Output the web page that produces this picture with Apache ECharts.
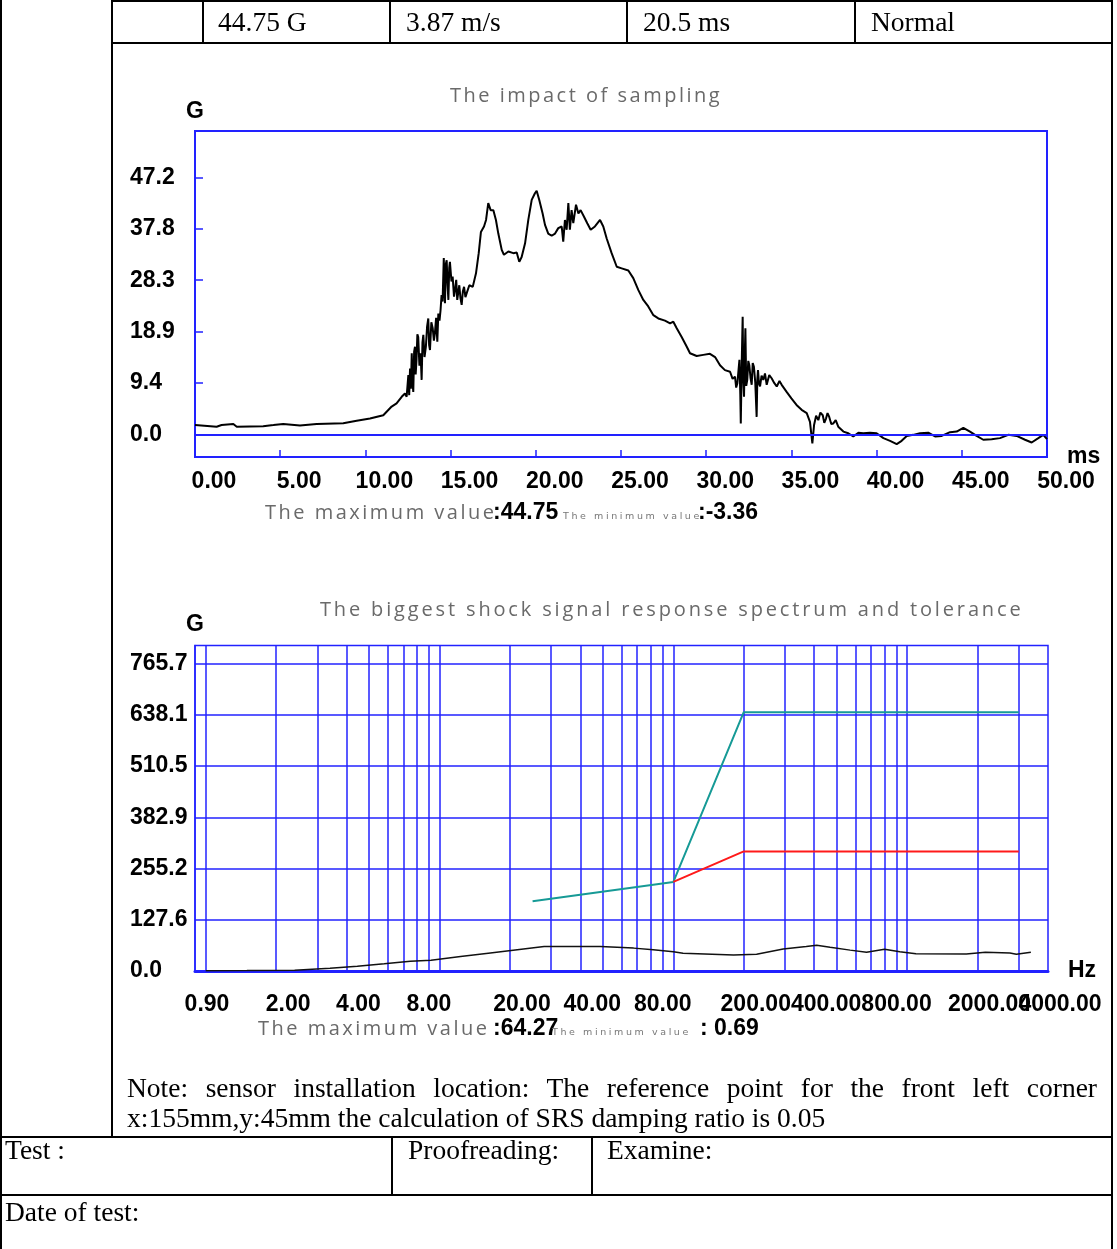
<!DOCTYPE html>
<html>
<head>
<meta charset="utf-8">
<title>Shock test report</title>
<script src="https://cdn.jsdelivr.net/npm/echarts@6/dist/echarts.min.js"></script>
<style>
  html, body { margin: 0; padding: 0; background: #fff; }
  #page { position: relative; width: 1117px; height: 1249px; overflow: hidden; }
  #chart { position: absolute; left: 0; top: 0; width: 1117px; height: 1249px; }
  .ln { position: absolute; background: #000; z-index: 2; }
  .tx { position: absolute; z-index: 2; font-family: 'Liberation Serif', 'Times New Roman', serif;
        font-size: 27.5px; line-height: 30px; white-space: nowrap; color: #000; }
  .cap { position: absolute; z-index: 2; font-family: 'Open Sans', sans-serif; color: #6a6a6a;
         white-space: nowrap; font-size: 20px; line-height: 20px; letter-spacing: 2.5px; }
  .num { position: absolute; z-index: 2; font-family: 'Liberation Sans', Arial, sans-serif; font-weight: bold;
         color: #000; white-space: nowrap; font-size: 23px; line-height: 23px; }
  .tiny { position: absolute; z-index: 2; font-family: 'DejaVu Sans', sans-serif; color: #777;
          white-space: nowrap; font-size: 9.5px; line-height: 10px; letter-spacing: 2.6px; }
</style>
</head>
<body>
<div id="page">
  <div id="chart"></div>

  <!-- table rules -->
  <div class="ln" style="left:0;top:0;width:2px;height:1249px"></div>
  <div class="ln" style="left:111px;top:0;width:2px;height:1137px"></div>
  <div class="ln" style="left:1111px;top:0;width:2px;height:1249px"></div>
  <div class="ln" style="left:111px;top:0;width:1002px;height:2px"></div>
  <div class="ln" style="left:111px;top:42px;width:1002px;height:2px"></div>
  <div class="ln" style="left:202px;top:0;width:2px;height:43px"></div>
  <div class="ln" style="left:389px;top:0;width:2px;height:43px"></div>
  <div class="ln" style="left:626px;top:0;width:2px;height:43px"></div>
  <div class="ln" style="left:854px;top:0;width:2px;height:43px"></div>
  <div class="ln" style="left:0;top:1136px;width:1113px;height:2px"></div>
  <div class="ln" style="left:391px;top:1136px;width:2px;height:59px"></div>
  <div class="ln" style="left:591px;top:1136px;width:2px;height:59px"></div>
  <div class="ln" style="left:0;top:1194px;width:1113px;height:2px"></div>

  <!-- table text -->
  <div class="tx" style="left:218px;top:7px">44.75 G</div>
  <div class="tx" style="left:406px;top:7px">3.87 m/s</div>
  <div class="tx" style="left:643px;top:7px">20.5 ms</div>
  <div class="tx" style="left:871px;top:7px">Normal</div>
  <div class="tx" style="left:127px;top:1073px;width:970px;white-space:normal;text-align:justify;text-align-last:justify">Note: sensor installation location: The reference point for the front left corner</div>
  <div class="tx" style="left:127px;top:1103px">x:155mm,y:45mm the calculation of SRS damping ratio is 0.05</div>
  <div class="tx" style="left:5px;top:1135px">Test :</div>
  <div class="tx" style="left:408px;top:1135px">Proofreading:</div>
  <div class="tx" style="left:607px;top:1135px">Examine:</div>
  <div class="tx" style="left:5px;top:1197px">Date of test:</div>

  <!-- chart captions -->
  <div class="cap" style="left:450px;top:85px">The impact of sampling</div>
  <div class="cap" style="left:320px;top:599px;letter-spacing:2.85px">The biggest shock signal response spectrum and tolerance</div>

  <div class="cap" style="left:265px;top:502px">The maximum value</div>
  <div class="num" style="left:493px;top:500px">:44.75</div>
  <div class="tiny" style="left:563px;top:511px">The minimum value</div>
  <div class="num" style="left:698px;top:500px">:-3.36</div>

  <div class="cap" style="left:258px;top:1018px">The maximum value</div>
  <div class="num" style="left:493px;top:1016px">:64.27</div>
  <div class="tiny" style="left:552px;top:1027px">The minimum value</div>
  <div class="num" style="left:700px;top:1016px">: 0.69</div>
</div>

<script>
// impact sampling: [time ms, acceleration G]
const impactSamples = [
  [0, 1.7], [0.1, 1.4], [1.27, 1.4], [1.56, 1.7], [2.25, 1.9], [2.45, 1.4], [4.0, 1.5], [4.6, 1.7],
  [5.18, 1.9], [6.16, 1.6], [7.14, 1.9], [8.7, 2.05], [9.49, 2.5], [10.27, 2.9], [11.05, 3.5],
  [11.54, 5.1], [11.83, 5.7], [12.13, 6.9], [12.32, 7.5], [12.42, 6.9], [12.52, 10.9], [12.57, 7.2],
  [12.62, 12.1], [12.67, 8.4], [12.72, 14.9], [12.77, 9.6], [12.81, 7.8], [12.86, 15.2], [12.91, 16.1],
  [12.95, 11.0], [13.0, 13.7], [13.05, 18.4], [13.1, 17.9], [13.17, 12.6], [13.24, 14.9], [13.3, 10.0],
  [13.35, 16.9], [13.4, 18.3], [13.47, 14.2], [13.55, 16.1], [13.62, 19.8], [13.69, 21.3], [13.74, 16.4],
  [13.79, 15.5], [13.87, 20.6], [13.95, 19.5], [14.02, 17.2], [14.08, 18.6], [14.15, 21.4], [14.22, 17.0],
  [14.28, 22.2], [14.35, 20.9], [14.41, 22.8], [14.47, 25.6], [14.53, 24.4], [14.6, 32.4], [14.64, 26.2],
  [14.67, 24.1], [14.72, 31.3], [14.77, 32.0], [14.82, 27.5], [14.87, 24.7], [14.92, 30.6], [14.96, 31.7],
  [15.05, 28.1], [15.12, 29.0], [15.2, 25.3], [15.26, 26.5], [15.33, 28.4], [15.39, 24.7], [15.45, 26.1],
  [15.51, 27.4], [15.58, 25.0], [15.65, 23.8], [15.72, 26.3], [15.79, 27.1], [15.87, 25.2], [15.94, 25.9],
  [16.1, 27.4], [16.3, 27.1], [16.49, 29.6], [16.65, 33.3], [16.78, 37.2], [16.96, 38.2],
  [17.08, 39.4], [17.21, 42.5], [17.35, 41.2], [17.51, 41.2], [17.66, 39.4], [17.8, 36.9], [18.0, 33.9],
  [18.13, 33.0], [18.39, 33.6], [18.68, 33.3], [18.88, 33.4], [19.03, 31.7], [19.17, 32.6], [19.37, 35.1],
  [19.56, 39.4], [19.76, 43.1], [19.95, 44.3], [20.05, 44.75], [20.2, 43.1], [20.4, 40.6], [20.54, 38.5],
  [20.73, 36.9], [20.93, 36.5], [21.13, 36.9], [21.32, 37.9], [21.52, 38.2], [21.61, 35.4], [21.71, 39.4],
  [21.81, 37.6], [21.91, 42.5], [22.0, 37.6], [22.1, 41.2], [22.2, 38.8], [22.36, 42.2], [22.5, 40.6],
  [22.63, 41.2], [22.83, 40.0], [23.02, 38.8], [23.22, 37.6], [23.47, 38.2], [23.77, 39.4], [23.96, 38.2],
  [24.16, 36.0], [24.45, 33.3], [24.75, 30.8], [25.04, 30.5], [25.43, 30.1], [25.72, 28.7], [26.02, 26.5],
  [26.31, 24.7], [26.6, 23.5], [26.9, 21.9], [27.19, 21.3], [27.58, 20.9], [27.88, 20.4], [28.07, 20.7],
  [28.27, 19.5], [28.56, 17.9], [28.86, 16.1], [29.05, 14.9], [29.44, 14.4], [29.83, 14.6], [30.22, 14.8],
  [30.52, 14.2], [30.81, 12.7], [31.1, 11.8], [31.4, 11.5], [31.55, 10.2], [31.69, 10.6], [31.76, 8.6],
  [31.83, 9.4], [31.9, 11.9], [31.95, 13.7], [32.0, 7.4], [32.03, 2.0], [32.08, 12.3], [32.14, 21.6],
  [32.18, 9.8], [32.22, 6.9], [32.26, 14.1], [32.3, 19.5], [32.35, 8.9], [32.41, 10.0], [32.47, 13.5],
  [32.53, 12.7], [32.6, 10.4], [32.67, 9.1], [32.73, 13.1], [32.8, 12.4], [32.88, 9.5], [32.96, 3.2],
  [33.0, 10.1], [33.04, 11.8], [33.1, 9.3], [33.16, 8.8], [33.25, 10.8], [33.35, 10.0], [33.45, 11.2],
  [33.55, 9.1], [33.7, 10.9], [33.84, 10.3], [34.0, 9.4], [34.14, 8.8], [34.3, 9.8],
  [34.43, 9.1], [34.72, 7.8], [35.0, 6.6], [35.3, 5.4], [35.6, 4.5], [35.9, 3.9],
  [36.09, 2.3], [36.23, -1.65], [36.33, 1.7], [36.45, 3.4], [36.58, 2.6], [36.7, 4.0], [36.84, 3.5],
  [36.93, 2.1], [37.03, 2.9], [37.12, 3.9], [37.22, 3.2], [37.34, 1.9], [37.46, 2.0], [37.6, 2.6],
  [37.75, 1.4], [38.05, 0.5], [38.34, 0.2], [38.63, -0.4], [38.93, 0.3], [39.22, 0.2],
  [39.61, 0.3], [40.0, 0.2], [40.4, -0.7], [40.79, -1.2], [41.18, -1.8], [41.47, -1.2], [41.77, -0.3],
  [42.15, -0.1], [42.55, 0.2], [43.03, 0.3], [43.43, -0.4], [43.82, -0.3], [44.31, 0.4], [44.7, 0.5],
  [45.09, 1.2], [45.48, 0.5], [45.87, -0.3], [46.26, -1.0], [46.75, -0.9], [47.24, -0.7], [47.73, -0.1],
  [48.22, -0.3], [48.71, -1.0], [49.1, -1.5], [49.49, -0.7], [49.78, -0.1], [50, -0.9]
];

// shock response spectrum: [frequency Hz, G]
const srsSamples = [
  [1, 0.69], [1.5, 1.2], [2.4, 2], [3.4, 7], [4.45, 12], [5.8, 18], [7.5, 24], [9.2, 27],
  [12.3, 36], [16.5, 45], [21.5, 53], [28, 61], [41, 61], [48.7, 61], [67.6, 57], [82, 53],
  [100, 48], [110, 44], [181, 40], [227, 42], [295, 55], [370, 61], [410, 64.27], [468, 59],
  [570, 52], [670, 47], [800, 54], [930, 48], [1090, 43], [1790, 42.5], [2160, 47], [2750, 45],
  [2930, 42], [3380, 47]
];

// tolerance bands
const upperTolerance = [[25, 174], [100, 222], [200, 645], [3000, 645]];
const lowerTolerance = [[100, 222], [200, 298], [3000, 298]];

// tick values
const impactYTicks = [0, 9.44, 18.88, 28.32, 37.76, 47.2];
const srsYTicks = [0, 127.6, 255.2, 382.9, 510.5, 638.1, 765.7];
const srsGridFreq = [1, 2, 3, 4, 5, 6, 7, 8, 9, 10, 20, 30, 40, 50, 60, 70, 80, 90,
  100, 200, 300, 400, 500, 600, 700, 800, 900, 1000, 2000, 3000];
const srsLabelFreq = [0.9, 2, 4, 8, 20, 40, 80, 200, 400, 800, 2000];
const srsEndLabelFreq = [4000];

const BLUE = '#2222ff';
const labelFont = {
  color: '#000',
  fontFamily: 'Liberation Sans, Arial, sans-serif',
  fontWeight: 'bold',
  fontSize: 23
};

const chart = echarts.init(document.getElementById('chart'));

chart.setOption({
  animation: false,
  backgroundColor: '#fff',
  grid: [
    { left: 195, top: 131, width: 852, height: 326, show: true, borderColor: BLUE, borderWidth: 2,
      containLabel: false, outerBoundsMode: 'none' },
    { left: 195, top: 645.5, width: 853, height: 325.5, show: true, borderColor: BLUE, borderWidth: 1.5,
      containLabel: false, outerBoundsMode: 'none' }
  ],
  xAxis: [
    {
      gridIndex: 0, type: 'value', min: 0, max: 50, interval: 5,
      name: 'ms', nameLocation: 'end', nameGap: 20, nameMoveOverlap: false,
      nameTextStyle: Object.assign({}, labelFont, { verticalAlign: 'middle', align: 'left' }),
      axisLine: { show: true, onZero: false, lineStyle: { color: BLUE, width: 2 } },
      axisTick: { show: true, inside: true, length: 7, lineStyle: { color: BLUE, width: 1.5 } },
      splitLine: { show: false },
      axisLabel: Object.assign({}, labelFont, {
        margin: 13, padding: [0, 0, 0, 38], showMinLabel: true, showMaxLabel: true,
        formatter: v => v.toFixed(2)
      })
    },
    {
      gridIndex: 1, type: 'log', logBase: 10, min: 0.9, max: 4001, position: 'bottom',
      name: 'Hz', nameLocation: 'end', nameGap: 20, nameMoveOverlap: false,
      nameTextStyle: Object.assign({}, labelFont, { verticalAlign: 'middle', align: 'left' }),
      axisLine: { show: true, onZero: false, lineStyle: { color: BLUE, width: 3 } },
      axisTick: { show: false, customValues: srsGridFreq },
      splitLine: { show: true, lineStyle: { color: BLUE, width: 1.5 } },
      minorSplitLine: { show: false },
      axisLabel: Object.assign({}, labelFont, {
        margin: 22, padding: [0, 0, 0, 24], showMinLabel: true, showMaxLabel: true,
        customValues: srsLabelFreq,
        formatter: v => v.toFixed(2)
      })
    },
    {
      // same scale, carries only the end label so it may overlap its neighbour
      gridIndex: 1, type: 'log', logBase: 10, min: 0.9, max: 4001, position: 'bottom', offset: 0,
      axisLine: { show: false, onZero: false },
      axisTick: { show: false, customValues: srsEndLabelFreq },
      splitLine: { show: false },
      axisLabel: Object.assign({}, labelFont, {
        margin: 22, padding: [0, 0, 0, 24], showMinLabel: true, showMaxLabel: true,
        customValues: srsEndLabelFreq,
        formatter: v => v.toFixed(2)
      })
    }
  ],
  yAxis: [
    {
      gridIndex: 0, type: 'value', min: -4.17, max: 55.75,
      name: 'G', nameLocation: 'end', nameGap: 8,
      nameTextStyle: Object.assign({}, labelFont, { align: 'center', verticalAlign: 'bottom' }),
      axisLine: { show: true, onZero: false, lineStyle: { color: BLUE, width: 2 } },
      axisTick: { show: true, inside: true, length: 8, customValues: impactYTicks,
        lineStyle: { color: BLUE, width: 1.5 } },
      splitLine: { show: false },
      axisLabel: Object.assign({}, labelFont, {
        align: 'left', margin: 65, customValues: impactYTicks,
        formatter: v => v.toFixed(1)
      })
    },
    {
      gridIndex: 1, type: 'value', min: 0, max: 811,
      name: 'G', nameLocation: 'end', nameGap: 9,
      nameTextStyle: Object.assign({}, labelFont, { align: 'center', verticalAlign: 'bottom' }),
      axisLine: { show: true, onZero: false, lineStyle: { color: BLUE, width: 1.5 } },
      axisTick: { show: false, customValues: srsYTicks },
      splitLine: { show: true, lineStyle: { color: BLUE, width: 1.5 } },
      axisLabel: Object.assign({}, labelFont, {
        align: 'left', margin: 65, customValues: srsYTicks,
        formatter: v => v.toFixed(1)
      })
    }
  ],
  series: [
    {
      name: 'impact', type: 'line', xAxisIndex: 0, yAxisIndex: 0,
      data: impactSamples, symbol: 'none', showSymbol: false,
      lineStyle: { color: '#000', width: 2 },
      markLine: {
        silent: true, symbol: ['none', 'none'], label: { show: false },
        lineStyle: { color: BLUE, width: 2, type: 'solid' },
        data: [{ yAxis: 0 }]
      }
    },
    {
      name: 'upper tolerance', type: 'line', xAxisIndex: 1, yAxisIndex: 1,
      data: upperTolerance, symbol: 'none',
      lineStyle: { color: '#169a96', width: 2 }
    },
    {
      name: 'lower tolerance', type: 'line', xAxisIndex: 1, yAxisIndex: 1,
      data: lowerTolerance, symbol: 'none',
      lineStyle: { color: '#ff1a1a', width: 2 }
    },
    {
      name: 'srs', type: 'line', xAxisIndex: 1, yAxisIndex: 1,
      data: srsSamples, symbol: 'none',
      lineStyle: { color: '#111', width: 1.5 }
    }
  ]
});
</script>
</body>
</html>
